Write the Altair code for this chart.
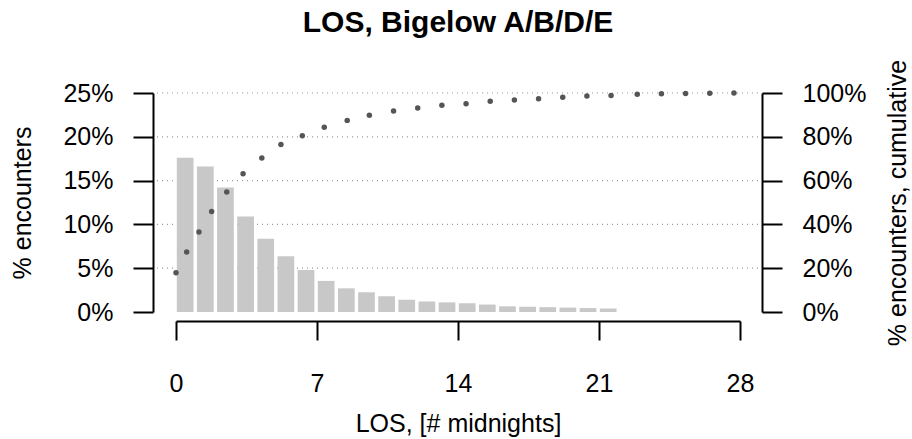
import altair as alt
import pandas as pd

# ---- data ----
bar_los = list(range(22))
bar_pct = [17.6, 16.6, 14.2, 10.9, 8.35, 6.35, 4.8, 3.55, 2.7, 2.25, 1.8,
           1.4, 1.2, 1.1, 1.0, 0.85, 0.65, 0.6, 0.55, 0.5, 0.45, 0.4]

cum_los = [0.0, 0.53, 1.14, 1.77, 2.52, 3.33, 4.26, 5.21, 6.27, 7.36, 8.5,
           9.6, 10.8, 12.0, 13.2, 14.4, 15.6, 16.8, 18.0, 19.2, 20.4, 21.6,
           22.9, 24.1, 25.3, 26.5, 27.7]
cum_pct = [17.9, 27.4, 36.5, 45.9, 54.8, 63.1, 70.3, 76.5, 80.5, 84.4, 87.5,
           89.8, 91.8, 93.2, 94.4, 95.1, 96.2, 96.8, 97.4, 98.1, 98.6, 98.9,
           99.4, 99.7, 99.8, 99.9, 100.0]

x_ticks = [0, 7, 14, 21, 28]
left_ticks = [0, 5, 10, 15, 20, 25]
right_ticks = [0, 20, 40, 60, 80, 100]
grid_vals = [5, 10, 15, 20, 25]

bars_df = pd.DataFrame({"los": bar_los, "pct": bar_pct})
cum_df = pd.DataFrame({"los": cum_los, "cum": cum_pct})
grid_df = pd.DataFrame({"g": grid_vals})

FONT = "Liberation Sans"
W, H = 564, 219

xscale = alt.Scale(domain=[0, 28], nice=False, zero=False)
yL = alt.Scale(domain=[0, 25], nice=False)
yR = alt.Scale(domain=[0, 100], nice=False)

common = dict(domainColor="black", domainWidth=2, tickColor="black", tickWidth=2,
              labelFont=FONT, labelFontSize=25, labelColor="black",
              titleFont=FONT, titleFontSize=25, titleFontWeight="normal",
              titleColor="black", grid=False, labelOverlap=False)

xaxis = alt.Axis(orient="bottom", values=x_ticks, offset=9, tickSize=19,
                 labelPadding=31, labelFlush=False, title="LOS, [# midnights]",
                 titlePadding=15, **common)
left_axis = alt.Axis(orient="left", values=left_ticks, offset=23, tickSize=20,
                     labelPadding=20, labelExpr="datum.value + '%'",
                     title="% encounters", titlePadding=27, **common)
right_axis = alt.Axis(orient="right", values=right_ticks, offset=22, tickSize=20,
                      labelPadding=20, labelExpr="datum.value + '%'",
                      title="% encounters, cumulative", titleAngle=270,
                      titleBaseline="top", titlePadding=20, **common)

grid = alt.Chart(grid_df).mark_rule(color="#999999", strokeWidth=1.2,
                                    strokeDash=[1, 4]).encode(
    x=alt.value(-19), x2=alt.value(585),
    y=alt.Y("g:Q", scale=yL, axis=left_axis),
)

bars = alt.Chart(bars_df).mark_rect(color="#c8c8c8").transform_calculate(
    x0="datum.los + 0.04", x1="datum.los + 0.87"
).encode(
    x=alt.X("x0:Q", scale=xscale, axis=xaxis),
    x2="x1:Q",
    y=alt.Y("pct:Q", scale=yL, axis=left_axis),
    y2=alt.datum(0),
)

points = alt.Chart(cum_df).mark_circle(color="#555555", size=30, opacity=1).encode(
    x=alt.X("los:Q", scale=xscale, axis=xaxis),
    y=alt.Y("cum:Q", scale=yR, axis=right_axis),
)

left = alt.layer(grid, bars)

chart = alt.layer(left, points).resolve_scale(y="independent").properties(
    width=W, height=H,
    title=alt.TitleParams("LOS, Bigelow A/B/D/E", font=FONT, fontSize=30,
                          fontWeight="bold", color="black", anchor="middle",
                          frame="group", offset=21),
    autosize=alt.AutoSizeParams(type="none"),
    padding={"left": 176, "top": 93, "right": 912 - 176 - W, "bottom": 439 - 93 - H},
).configure(background="white").configure_view(stroke=None)

chart.save("out.html", embed_options={"renderer": "svg", "actions": False})
